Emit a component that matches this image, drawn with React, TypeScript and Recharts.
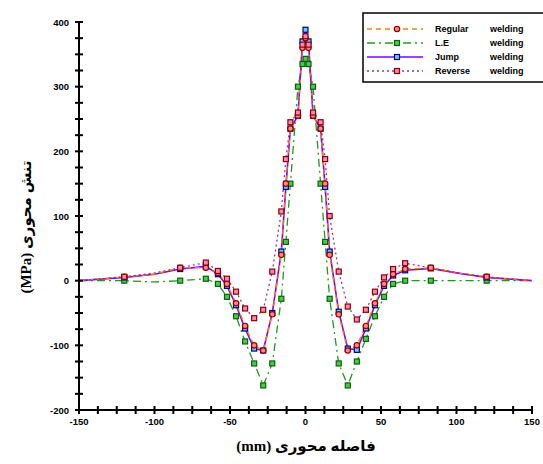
import React from "react";
import { LineChart, Line, XAxis, YAxis } from "recharts";

const xs = [-150,-120,-100,-83,-66,-58,-52,-46,-40,-34,-28,-22,-16,-13,-10,-5,-2,0,2,5,10,13,16,22,28,34,40,46,52,58,66,83,100,120,150];
const regular = [0,6,10,20,20,12,-5,-35,-70,-100,-108,-52,40,150,235,255,360,375,360,255,235,150,40,-52,-108,-100,-70,-35,-5,10,18,20,12,6,0];
const le = [0,0,-2,0,3,-5,-25,-55,-94,-128,-162,-128,-28,60,150,300,335,343,335,300,150,60,-28,-128,-162,-125,-90,-55,-25,-5,0,0,0,0,0];
const jump = [0,5,10,18,22,10,-8,-38,-74,-105,-108,-50,45,145,235,255,370,388,370,255,235,145,45,-48,-105,-107,-74,-38,-8,8,16,19,12,5,0];
const reverse = [0,6,12,20,28,15,3,-17,-43,-58,-45,14,107,188,245,260,365,378,365,260,245,188,100,14,-40,-60,-45,-17,5,18,27,20,12,6,0];

const seriesNames = ["Regular", "L.E", "Jump", "Reverse"];
const xTicks = [-150,-137.5,-125,-112.5,-100,-87.5,-75,-62.5,-50,-37.5,-25,-12.5,0,12.5,25,37.5,50,62.5,75,87.5,100,112.5,125,137.5,150];
const yTicks = [-200,-175,-150,-125,-100,-75,-50,-25,0,25,50,75,100,125,150,175,200,225,250,275,300,325,350,375,400];
const xLabels = [-150,-100,-50,0,50,100,150];
const yLabels = [-200,-100,0,100,200,300,400];
const skipDots = [-150,-100,100,150];

const data = xs.map((x, i) => ({ x, regular: regular[i], le: le[i], jump: jump[i], reverse: reverse[i] }));

const tickFont = "'Liberation Sans', Arial, sans-serif";

const XTick = (props: any) => {
  const { x, y, payload } = props;
  const v = Number(payload.value);
  const yy = Number(y);
  const xx = Number(x);
  return (
    <g>
      <rect x={xx - 1} y={yy - 4} width={2} height={8} fill="#000" />
      {xLabels.includes(v) && (
        <text x={xx} y={yy + 15} textAnchor="middle" fontSize={9.5} fontWeight="bold" fontFamily={tickFont} fill="#000">{v}</text>
      )}
    </g>
  );
};

const YTick = (props: any) => {
  const { x, y, payload } = props;
  const v = Number(payload.value);
  const xx = Number(x);
  const yy = Number(y);
  return (
    <g>
      <rect x={xx - 4} y={yy - 1} width={8} height={2} fill="#000" />
      {yLabels.includes(v) && (
        <text x={xx - 10} y={yy + 3.5} textAnchor="end" fontSize={9.5} fontWeight="bold" fontFamily={tickFont} fill="#000">{v}</text>
      )}
    </g>
  );
};

const makeDot = (kind: string, stroke: string, fill: string) => (props: any) => {
  const { cx, cy, payload, index } = props;
  if (cx == null || cy == null || skipDots.includes(payload.x)) return <g key={`d-${kind}-${index}`} />;
  if (kind === "circle") {
    return <circle key={`d-${kind}-${index}`} cx={cx} cy={cy} r={2.7} stroke={stroke} strokeWidth={1.2} fill={fill} />;
  }
  return <rect key={`d-${kind}-${index}`} x={cx - 2.5} y={cy - 2.5} width={5} height={5} stroke={stroke} strokeWidth={1.2} fill={fill} />;
};

const C = {
  regular: { line: "#ff8000", dash: "5 4", mk: "circle", ms: "#990000", mf: "#ff8a8a" },
  le: { line: "#1f9a1f", dash: "8 4 2 4", mk: "square", ms: "#0d5e0d", mf: "#46cc46" },
  jump: { line: "#7f00ff", dash: undefined, mk: "square", ms: "#000080", mf: "#66ccff" },
  reverse: { line: "#993399", dash: "2 3", mk: "square", ms: "#8b0000", mf: "#ff88bb" },
};

const legendRows = [
  { key: "regular", name: seriesNames[0] },
  { key: "le", name: seriesNames[1] },
  { key: "jump", name: seriesNames[2] },
  { key: "reverse", name: seriesNames[3] },
];

export default function App() {
  return (
    <div style={{ position: "absolute", left: 0, top: 0, width: 543, height: 464, background: "#fff" }}>
      <LineChart width={543} height={464} data={data} margin={{ top: 22, right: 11, left: 19, bottom: 0 }}>
        <XAxis
          dataKey="x"
          type="number"
          domain={[-150, 150]}
          ticks={xTicks}
          interval={0}
          tick={<XTick />}
          tickLine={false}
          tickSize={0}
          tickMargin={0}
          axisLine={{ stroke: "#000", strokeWidth: 2 }}
          height={54}
        />
        <YAxis
          type="number"
          domain={[-200, 400]}
          ticks={yTicks}
          interval={0}
          tick={<YTick />}
          tickLine={false}
          tickSize={0}
          tickMargin={0}
          axisLine={{ stroke: "#000", strokeWidth: 2 }}
          width={60}
        />
        {(["le", "jump", "regular", "reverse"] as const).map((k) => {
          const c = (C as any)[k];
          return (
            <Line
              key={k}
              dataKey={k}
              type="linear"
              stroke={c.line}
              strokeWidth={k === "jump" ? 1.6 : 1.3}
              strokeDasharray={c.dash}
              dot={makeDot(c.mk, c.ms, c.mf)}
              activeDot={false}
              isAnimationActive={false}
            />
          );
        })}
      </LineChart>
      <svg width={543} height={464} style={{ position: "absolute", left: 0, top: 0, pointerEvents: "none" }}>
        <rect x={363} y={13} width={200} height={69} fill="#fff" stroke="#000" strokeWidth={1.5} />
        {legendRows.map((r, i) => {
          const c = (C as any)[r.key];
          const y = 29 + i * 14;
          return (
            <g key={r.key}>
              <line x1={367} x2={423} y1={y} y2={y} stroke={c.line} strokeWidth={1.5} strokeDasharray={c.dash} />
              {c.mk === "circle" ? (
                <circle cx={397} cy={y} r={2.7} stroke={c.ms} strokeWidth={1.2} fill={c.mf} />
              ) : (
                <rect x={394.5} y={y - 2.5} width={5} height={5} stroke={c.ms} strokeWidth={1.2} fill={c.mf} />
              )}
              <text x={435} y={y + 3} fontSize={9} fontWeight="bold" fontFamily={tickFont} fill="#000">{r.name}</text>
              <text x={490} y={y + 3} fontSize={9} fontWeight="bold" fontFamily={tickFont} fill="#000">welding</text>
            </g>
          );
        })}
        <text x={306} y={451} textAnchor="middle" fontSize={15} fontWeight="bold" fontFamily="'Liberation Serif', 'DejaVu Sans', serif" fill="#000">
          {"\u202Bفاصله محوری (mm)\u202C"}
        </text>
        <text x={0} y={0} transform="translate(31,227) rotate(-90)" textAnchor="middle" fontSize={15} fontWeight="bold" fontFamily="'Liberation Serif', 'DejaVu Sans', serif" fill="#000">
          {"\u202Bتنش محوری (MPa)\u202C"}
        </text>
      </svg>
    </div>
  );
}
